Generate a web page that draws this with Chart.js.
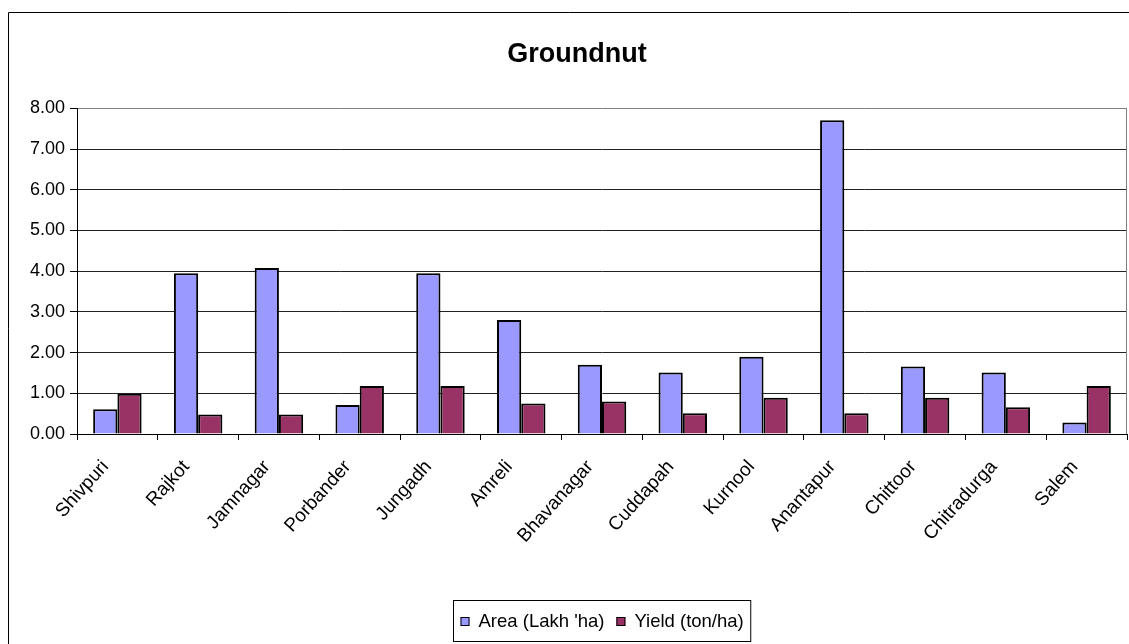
<!DOCTYPE html>
<html>
<head>
<meta charset="utf-8">
<script src="https://cdn.jsdelivr.net/npm/chart.js@4.4.1/dist/chart.umd.min.js"></script>
<style>
  html, body { margin: 0; padding: 0; background: #ffffff; }
  #wrap { position: relative; width: 1129px; height: 644px; }
  canvas { display: block; }
</style>
</head>
<body>
<div id="wrap"><canvas id="chart" width="1129" height="644"></canvas></div>
<script>
// Districts shown along the x axis
const districts = ['Shivpuri', 'Rajkot', 'Jamnagar', 'Porbander', 'Jungadh', 'Amreli',
  'Bhavanagar', 'Cuddapah', 'Kurnool', 'Anantapur', 'Chittoor', 'Chitradurga', 'Salem'];

// Groundnut area under cultivation (lakh ha)
const areaLakhHa = [0.61, 3.95, 4.08, 0.71, 3.95, 2.80, 1.70, 1.51, 1.90, 7.71, 1.66, 1.51, 0.28];

// Groundnut yield (ton/ha)
const yieldTonHa = [0.99, 0.48, 0.48, 1.18, 1.18, 0.75, 0.80, 0.51, 0.89, 0.51, 0.89, 0.66, 1.18];

// Value axis range
const yMin = 0;
const yMax = 8;
const yStep = 1;

const FONT = '"Liberation Sans", Arial, sans-serif';

// Outer frame and right edge of the plot area
const framePlugin = {
  id: 'frame',
  beforeDraw(chart) {
    const ctx = chart.ctx;
    ctx.save();
    ctx.fillStyle = '#ffffff';
    ctx.fillRect(0, 0, chart.width, chart.height);
    ctx.strokeStyle = '#000000';
    ctx.lineWidth = 1;
    ctx.beginPath();
    ctx.moveTo(8.5, chart.height + 2);
    ctx.lineTo(8.5, 12.5);
    ctx.lineTo(chart.width + 2, 12.5);
    ctx.stroke();
    ctx.restore();
  },
  afterDatasetsDraw(chart) {
    const { ctx, chartArea } = chart;
    ctx.save();
    ctx.strokeStyle = '#808080';
    ctx.lineWidth = 1;
    ctx.beginPath();
    const x = Math.round(chartArea.right) - 0.5;
    ctx.moveTo(x, chartArea.top);
    ctx.lineTo(x, chartArea.bottom);
    ctx.stroke();
    ctx.restore();
  }
};

// Boxed legend centred under the plot area
const boxedLegendPlugin = {
  id: 'boxedLegend',
  afterDraw(chart) {
    const { ctx, chartArea } = chart;
    const sets = chart.data.datasets;
    ctx.save();
    ctx.font = '18.5px ' + FONT;
    const sw = 9, gapBox = 9, gapItem = 12, padX = 7;
    const widths = sets.map(ds => ctx.measureText(ds.label).width);
    let total = padX * 2;
    widths.forEach((w, i) => { total += sw + gapBox + w + (i < widths.length - 1 ? gapItem : 0); });
    const cx = (chartArea.left + chartArea.right) / 2;
    const left = Math.round(cx - total / 2) + 0.5;
    const top = 600.5, h = 41;
    ctx.strokeStyle = '#000000';
    ctx.lineWidth = 1;
    ctx.strokeRect(left, top, total, h);
    const midY = top + h / 2;
    let x = left + padX;
    sets.forEach((ds, i) => {
      ctx.fillStyle = ds.backgroundColor;
      ctx.fillRect(x, Math.round(midY - sw / 2), sw, sw);
      ctx.strokeStyle = '#000000';
      ctx.strokeRect(x + 0.5, Math.round(midY - sw / 2) + 0.5, sw - 1, sw - 1);
      x += sw + gapBox;
      ctx.fillStyle = '#000000';
      ctx.textBaseline = 'middle';
      ctx.textAlign = 'left';
      ctx.fillText(ds.label, x, midY + 1);
      x += widths[i] + gapItem;
    });
    ctx.restore();
  }
};

new Chart(document.getElementById('chart'), {
  type: 'bar',
  data: {
    labels: districts,
    datasets: [
      {
        label: "Area (Lakh 'ha)",
        data: areaLakhHa,
        backgroundColor: '#9999FF',
        borderColor: '#000000',
        borderWidth: 2,
        categoryPercentage: 0.6,
        barPercentage: 1.0
      },
      {
        label: 'Yield (ton/ha)',
        data: yieldTonHa,
        backgroundColor: '#993366',
        borderColor: '#000000',
        borderWidth: 2,
        categoryPercentage: 0.6,
        barPercentage: 1.0
      }
    ]
  },
  options: {
    responsive: false,
    animation: false,
    layout: { padding: { left: 27, right: 2, top: 0, bottom: 0 } },
    plugins: {
      legend: { display: false },
      tooltip: { enabled: false },
      title: {
        display: true,
        text: 'Groundnut',
        color: '#000000',
        font: { family: FONT, size: 27, weight: 'bold' },
        padding: { top: 38, bottom: 38 }
      }
    },
    scales: {
      x: {
        grid: {
          offset: true,
          drawOnChartArea: false,
          drawTicks: true,
          tickLength: 6,
          color: '#000000'
        },
        border: { display: true, color: '#000000', width: 1 },
        ticks: {
          color: '#000000',
          font: { family: FONT, size: 19 },
          minRotation: 48,
          maxRotation: 48,
          autoSkip: false,
          padding: 16,
          labelOffset: -12
        },
        afterFit(scale) { scale.height = 210; }
      },
      y: {
        min: yMin,
        max: yMax,
        grid: {
          color: ctx => (ctx.tick && ctx.tick.value === yMax ? '#808080' : '#222222'),
          lineWidth: 1,
          drawTicks: true,
          tickLength: 7,
          tickColor: '#000000'
        },
        border: { display: true, color: '#000000', width: 1 },
        ticks: {
          stepSize: yStep,
          color: '#000000',
          font: { family: FONT, size: 18 },
          padding: 5,
          callback: v => Number(v).toFixed(2)
        },
        afterFit(scale) { scale.width = 50; }
      }
    }
  },
  plugins: [framePlugin, boxedLegendPlugin]
});
</script>
</body>
</html>
